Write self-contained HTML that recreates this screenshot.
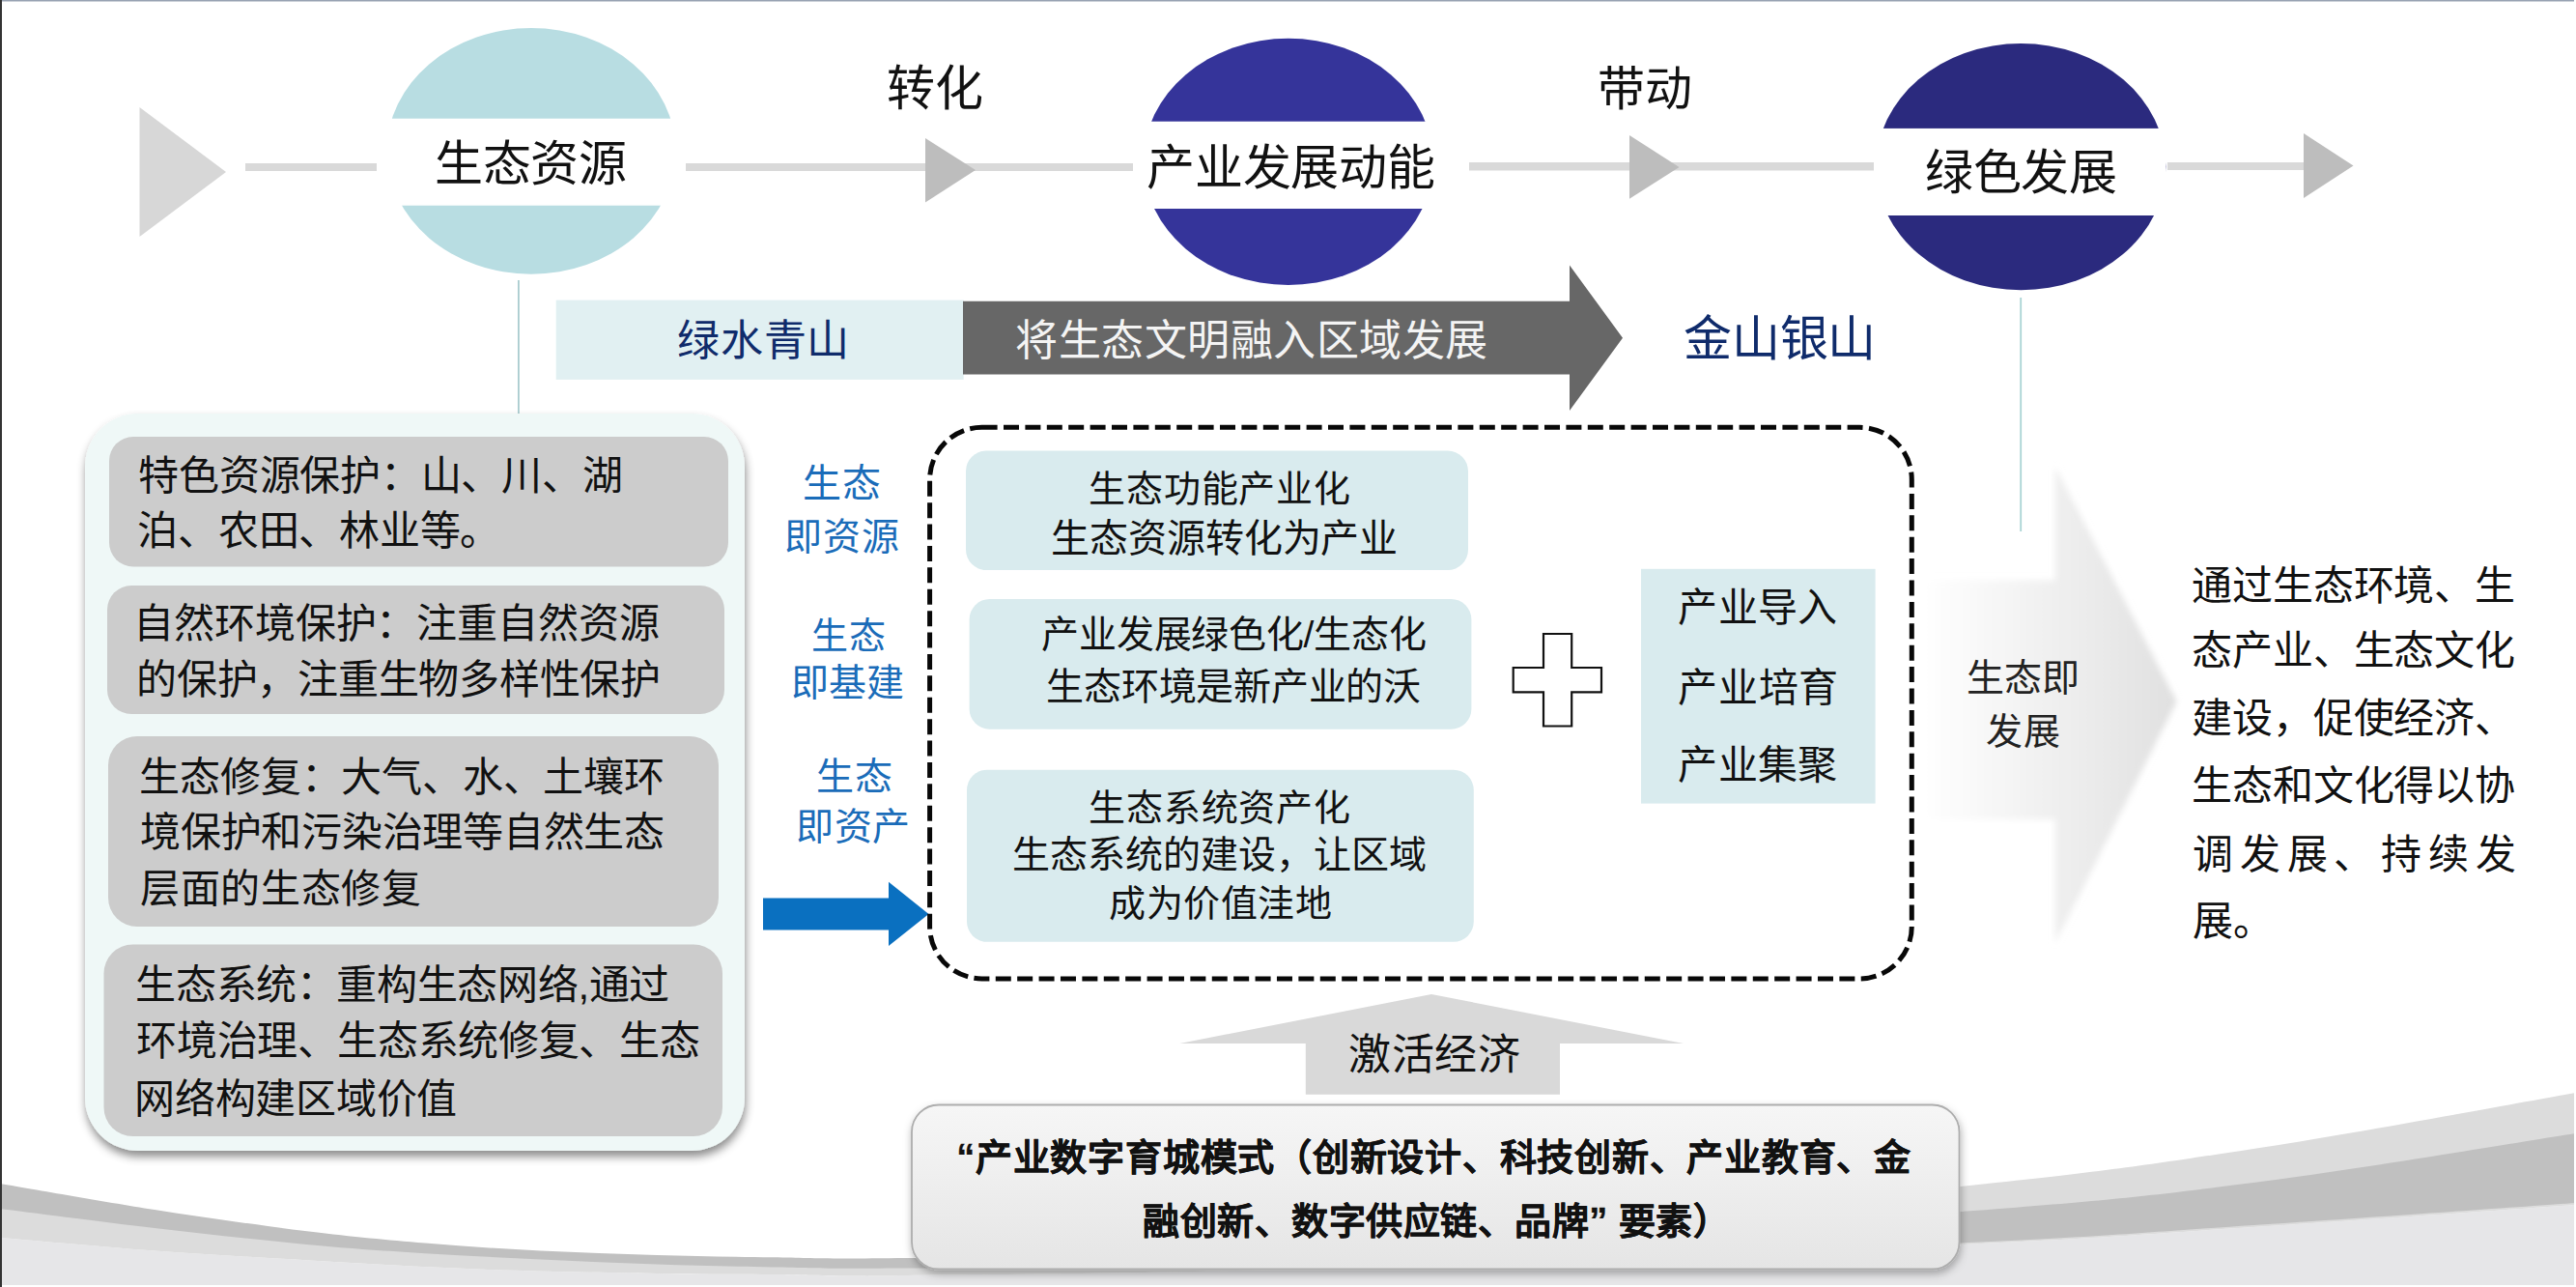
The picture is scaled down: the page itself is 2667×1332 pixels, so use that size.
<!DOCTYPE html>
<html lang="zh-CN"><head><meta charset="utf-8">
<style>
html,body{margin:0;padding:0;}
body{width:2667px;height:1332px;position:relative;overflow:hidden;background:#fff;font-family:"Liberation Sans",sans-serif;color:#111;}
.a{position:absolute;white-space:nowrap;}
svg{position:absolute;left:0;top:0;}
</style></head><body>
<svg width="2667" height="1332" viewBox="0 0 2667 1332">
<defs>
 <filter id="sh1" x="-10%" y="-10%" width="120%" height="125%">
  <feDropShadow dx="1" dy="6" stdDeviation="5" flood-color="#000" flood-opacity="0.45"/>
 </filter>
 <filter id="sh2" x="-10%" y="-20%" width="120%" height="140%">
  <feDropShadow dx="1" dy="4" stdDeviation="4" flood-color="#000" flood-opacity="0.3"/>
 </filter>
 <filter id="blur1" x="-30%" y="-30%" width="160%" height="160%">
  <feGaussianBlur stdDeviation="3"/>
 </filter>
 <linearGradient id="gArrow" gradientUnits="userSpaceOnUse" x1="1990" y1="0" x2="2253" y2="0">
  <stop offset="0" stop-color="#ffffff"/>
  <stop offset="0.5" stop-color="#f0f0f0"/>
  <stop offset="1" stop-color="#e0e0e0"/>
 </linearGradient>
 <linearGradient id="gBox" x1="0" y1="0" x2="0" y2="1">
  <stop offset="0" stop-color="#f6f6f6"/>
  <stop offset="1" stop-color="#e5e5e5"/>
 </linearGradient>
</defs>
<path d="M0.0,1281.0 C26.7,1283.2 106.7,1290.6 160.0,1294.5 C213.3,1298.4 263.3,1301.2 320.0,1304.4 C376.7,1307.6 440.0,1311.4 500.0,1313.7 C560.0,1316.0 630.0,1317.1 680.0,1318.0 C730.0,1318.9 756.7,1318.7 800.0,1319.0 C843.3,1319.3 840.0,1321.2 940.0,1320.0 C1040.0,1318.8 1218.3,1317.3 1400.0,1312.0 C1581.7,1306.7 1874.5,1295.0 2030.0,1288.0 C2185.5,1281.0 2226.8,1276.8 2333.0,1270.0 C2439.2,1263.2 2611.3,1250.8 2667.0,1247.0 L2667,1330 L0,1330 Z" fill="#e6e6e8"/><path d="M0.0,1238.0 C26.7,1241.8 106.7,1253.8 160.0,1261.0 C213.3,1268.2 273.3,1276.0 320.0,1281.0 C366.7,1286.0 400.0,1288.0 440.0,1291.0 C480.0,1294.0 520.0,1297.0 560.0,1299.0 C600.0,1301.0 640.0,1302.0 680.0,1303.0 C720.0,1304.0 756.7,1304.5 800.0,1305.0 C843.3,1305.5 840.0,1309.3 940.0,1306.0 C1040.0,1302.7 1218.3,1298.0 1400.0,1285.0 C1581.7,1272.0 1874.5,1244.0 2030.0,1228.0 C2185.5,1212.0 2226.8,1205.2 2333.0,1189.0 C2439.2,1172.8 2611.3,1140.7 2667.0,1131.0 L2667.0,1247.0 C2611.3,1250.8 2439.2,1263.2 2333.0,1270.0 C2226.8,1276.8 2185.5,1281.0 2030.0,1288.0 C1874.5,1295.0 1581.7,1306.7 1400.0,1312.0 C1218.3,1317.3 1040.0,1318.8 940.0,1320.0 C840.0,1321.2 843.3,1319.3 800.0,1319.0 C756.7,1318.7 730.0,1318.9 680.0,1318.0 C630.0,1317.1 560.0,1316.0 500.0,1313.7 C440.0,1311.4 376.7,1307.6 320.0,1304.4 C263.3,1301.2 213.3,1298.4 160.0,1294.5 C106.7,1290.6 26.7,1283.2 0.0,1281.0 Z" fill="#dcdcdc"/><path d="M0.0,1225.0 C26.7,1229.5 106.7,1243.7 160.0,1252.0 C213.3,1260.3 273.3,1268.8 320.0,1274.6 C366.7,1280.4 400.0,1283.3 440.0,1286.6 C480.0,1289.9 520.0,1292.5 560.0,1294.6 C600.0,1296.6 640.0,1297.8 680.0,1298.9 C720.0,1300.0 756.7,1300.8 800.0,1301.3 C843.3,1301.8 840.0,1303.2 940.0,1302.0 C1040.0,1300.8 1218.3,1302.0 1400.0,1294.0 C1581.7,1286.0 1874.5,1265.7 2030.0,1254.0 C2185.5,1242.3 2226.8,1237.5 2333.0,1224.0 C2439.2,1210.5 2611.3,1181.5 2667.0,1173.0 L2667.0,1245.0 C2611.3,1248.8 2439.2,1261.1 2333.0,1268.0 C2226.8,1274.9 2185.5,1279.7 2030.0,1286.4 C1874.5,1293.1 1581.7,1303.7 1400.0,1308.0 C1218.3,1312.3 1040.0,1311.9 940.0,1312.5 C840.0,1313.1 843.3,1312.1 800.0,1311.4 C756.7,1310.7 720.0,1309.8 680.0,1308.5 C640.0,1307.2 600.0,1305.4 560.0,1303.5 C520.0,1301.6 480.0,1299.7 440.0,1297.2 C400.0,1294.7 366.7,1292.7 320.0,1288.3 C273.3,1283.9 213.3,1277.2 160.0,1271.0 C106.7,1264.8 26.7,1254.3 0.0,1251.0 Z" fill="#c0c0c0"/>
<rect x="0" y="1330" width="2667" height="2" fill="#fff"/>
<rect x="2665" y="0" width="2" height="1332" fill="#fff"/>

<!-- top flow -->
<polygon points="144.5,111 234,178 144.5,245" fill="#d7d7d7"/>
<rect x="254" y="169" width="136" height="8" fill="#d9d9d9"/>
<rect x="709" y="169" width="464" height="8" fill="#d9d9d9"/>
<polygon points="958,143 1010,176 958,209.5" fill="#bdbdbd"/>
<rect x="1521" y="168" width="419" height="8.5" fill="#d9d9d9"/>
<polygon points="1687,140 1738.5,173 1687,205.7" fill="#bdbdbd"/>
<rect x="2244" y="168" width="141" height="8" fill="#d9d9d9"/>
<polygon points="2385,138 2436.5,171.5 2385,205" fill="#bdbdbd"/>

<ellipse cx="550" cy="156.4" rx="149.5" ry="127.3" fill="#b8dde2"/>
<rect x="390" y="122.7" width="320" height="90" fill="#fff"/>
<ellipse cx="1333.8" cy="167.4" rx="150" ry="127.6" fill="#35349a"/>
<rect x="1173" y="125.7" width="321" height="90.3" fill="#fff"/>
<ellipse cx="2092.3" cy="172.6" rx="150" ry="127.6" fill="#2b2a7e"/>
<rect x="1942" y="132.9" width="300" height="90.1" fill="#fff"/>

<rect x="536" y="290" width="1.8" height="138" fill="#aacccf"/>
<rect x="2091.3" y="308" width="1.8" height="242" fill="#aad4d4"/>

<!-- banner -->
<rect x="575.7" y="310.6" width="422" height="82.3" fill="#e1f0f2"/>
<polygon points="997,311.7 1625,311.7 1625,274.5 1680,349.8 1625,425 1625,387.4 997,387.4" fill="#676767"/>

<!-- left panel -->
<rect x="88" y="428" width="683" height="763" rx="55" ry="55" fill="#eff8f7" filter="url(#sh1)"/>
<rect x="113" y="452" width="641" height="134.5" rx="25" ry="25" fill="#cccccc"/>
<rect x="111" y="606" width="639" height="133" rx="25" ry="25" fill="#cccccc"/>
<rect x="112" y="762" width="632" height="197" rx="30" ry="30" fill="#cccccc"/>
<rect x="107.5" y="977.5" width="640.5" height="198.5" rx="30" ry="30" fill="#cccccc"/>

<!-- blue arrow -->
<polygon points="790,929.4 920,929.4 920,912.8 961.5,946 920,979 920,962.4 790,962.4" fill="#0a70c0"/>

<!-- dashed container -->
<rect x="962.6" y="442.3" width="1016.7" height="570.6" rx="54" ry="54" fill="none" stroke="#080808" stroke-width="5" stroke-dasharray="16 6.4"/>
<rect x="1000" y="466.6" width="520" height="123.4" rx="21" ry="21" fill="#d9ebee"/>
<rect x="1003.6" y="620" width="519.8" height="134.7" rx="21" ry="21" fill="#d9ebee"/>
<rect x="1001" y="796.7" width="524.8" height="178.1" rx="21" ry="21" fill="#d9ebee"/>
<path d="M1598,656 H1627.2 V691 H1658 V716.3 H1627.2 V751.5 H1598 V716.3 H1566.7 V691 H1598 Z" fill="#fff" stroke="#111" stroke-width="2.2"/>
<rect x="1699" y="588.8" width="242.6" height="242.8" fill="#d9ebee"/>

<!-- big light arrow -->
<polygon points="1990,600.5 2127.8,600.5 2127.8,483 2253.6,726 2127.8,976 2127.8,848 1990,848" fill="url(#gArrow)" filter="url(#blur1)"/>

<!-- up arrow -->
<polygon points="1221.4,1080 1482,1029 1743,1080 1615,1080 1615,1132.7 1351.8,1132.7 1351.8,1080" fill="#d9d9d9"/>

<!-- bottom box -->
<rect x="944" y="1143.5" width="1084.5" height="170" rx="28" ry="28" fill="url(#gBox)" stroke="#adadad" stroke-width="1.8" filter="url(#sh2)"/>

<rect x="0" y="0" width="2665" height="1.5" fill="#98a2b2"/>
<rect x="0" y="0" width="2" height="1332" fill="#333"/>
</svg>
<div class="a" id="t_sz" style="left:450.0px;top:139.5px;font-size:50px;line-height:60px;color:#111;letter-spacing:-0.47px;">生态资源</div>
<div class="a" id="t_zh" style="left:918.0px;top:61.5px;font-size:50px;line-height:60px;color:#111;">转化</div>
<div class="a" id="t_cy" style="left:1187.0px;top:144.0px;font-size:50px;line-height:60px;color:#111;letter-spacing:-0.20px;">产业发展动能</div>
<div class="a" id="t_dd" style="left:1654.0px;top:62.5px;font-size:49px;line-height:59px;color:#111;">带动</div>
<div class="a" id="t_ls" style="left:1993.0px;top:149.0px;font-size:50px;line-height:60px;color:#111;letter-spacing:-0.47px;">绿色发展</div>
<div class="a" id="t_lsqs" style="left:701.1px;top:326.0px;font-size:44px;line-height:53px;color:#0f2b6b;letter-spacing:0.73px;">绿水青山</div>
<div class="a" id="t_jst" style="left:1051.1px;top:325.5px;font-size:44px;line-height:53px;color:#f4f4f4;letter-spacing:0.54px;">将生态文明融入区域发展</div>
<div class="a" id="t_jsys" style="left:1743.0px;top:320.5px;font-size:50px;line-height:60px;color:#0f2b6b;letter-spacing:-0.20px;">金山银山</div>
<div class="a" id="b1l1" style="left:143.2px;top:467.5px;font-size:42px;line-height:50px;color:#111;letter-spacing:-0.22px;">特色资源保护：山、川、湖</div>
<div class="a" id="b1l2" style="left:142.2px;top:525.0px;font-size:42px;line-height:50px;color:#111;letter-spacing:-0.22px;">泊、农田、林业等。</div>
<div class="a" id="b2l1" style="left:138.2px;top:621.0px;font-size:42px;line-height:50px;color:#111;letter-spacing:-0.12px;">自然环境保护：注重自然资源</div>
<div class="a" id="b2l2" style="left:141.2px;top:678.5px;font-size:42px;line-height:50px;color:#111;letter-spacing:-0.25px;">的保护，注重生物多样性保护</div>
<div class="a" id="b3l1" style="left:144.2px;top:780.0px;font-size:42px;line-height:50px;color:#111;letter-spacing:-0.17px;">生态修复：大气、水、土壤环</div>
<div class="a" id="b3l2" style="left:145.2px;top:836.5px;font-size:42px;line-height:50px;color:#111;letter-spacing:-0.25px;">境保护和污染治理等自然生态</div>
<div class="a" id="b3l3" style="left:145.2px;top:895.5px;font-size:41px;line-height:49px;color:#111;letter-spacing:0.65px;">层面的生态修复</div>
<div class="a" id="b4l1" style="left:140.2px;top:995.0px;font-size:42px;line-height:50px;color:#111;letter-spacing:-0.34px;">生态系统：重构生态网络,通过</div>
<div class="a" id="b4l2" style="left:141.2px;top:1053.0px;font-size:42px;line-height:50px;color:#111;letter-spacing:-0.34px;">环境治理、生态系统修复、生态</div>
<div class="a" id="b4l3" style="left:139.2px;top:1113.0px;font-size:42px;line-height:50px;color:#111;letter-spacing:-0.26px;">网络构建区域价值</div>
<div class="a" id="bl1a" style="left:831.2px;top:475.5px;font-size:40px;line-height:48px;color:#1a6cb9;letter-spacing:1.00px;">生态</div>
<div class="a" id="bl1b" style="left:812.2px;top:531.5px;font-size:39px;line-height:47px;color:#1a6cb9;letter-spacing:0.70px;">即资源</div>
<div class="a" id="bl2a" style="left:840.3px;top:634.5px;font-size:38px;line-height:46px;color:#1a6cb9;letter-spacing:1.00px;">生态</div>
<div class="a" id="bl2b" style="left:819.2px;top:683.0px;font-size:39px;line-height:47px;color:#1a6cb9;">即基建</div>
<div class="a" id="bl3a" style="left:845.2px;top:779.5px;font-size:39px;line-height:47px;color:#1a6cb9;letter-spacing:0.80px;">生态</div>
<div class="a" id="bl3b" style="left:824.2px;top:832.0px;font-size:39px;line-height:47px;color:#1a6cb9;letter-spacing:0.50px;">即资产</div>
<div class="a" id="ta1" style="left:1127.2px;top:483.0px;font-size:38px;line-height:46px;color:#111;letter-spacing:0.82px;">生态功能产业化</div>
<div class="a" id="ta2" style="left:1088.2px;top:532.5px;font-size:40px;line-height:48px;color:#111;letter-spacing:-0.10px;">生态资源转化为产业</div>
<div class="a" id="tb1" style="left:1078.3px;top:632.5px;font-size:39px;line-height:47px;color:#111;letter-spacing:-0.26px;">产业发展绿色化/生态化</div>
<div class="a" id="tb2" style="left:1083.2px;top:687.0px;font-size:39px;line-height:47px;color:#111;letter-spacing:-0.22px;">生态环境是新产业的沃</div>
<div class="a" id="tc1" style="left:1127.2px;top:813.0px;font-size:38px;line-height:46px;color:#111;letter-spacing:0.82px;">生态系统资产化</div>
<div class="a" id="tc2" style="left:1048.2px;top:861.0px;font-size:39px;line-height:47px;color:#111;">生态系统的建设，让区域</div>
<div class="a" id="tc3" style="left:1148.2px;top:912.0px;font-size:38px;line-height:46px;color:#111;letter-spacing:0.50px;">成为价值洼地</div>
<div class="a" id="tr1" style="left:1737.2px;top:604.5px;font-size:41px;line-height:49px;color:#111;letter-spacing:0.33px;">产业导入</div>
<div class="a" id="tr2" style="left:1737.2px;top:687.5px;font-size:41px;line-height:49px;color:#111;letter-spacing:0.67px;">产业培育</div>
<div class="a" id="tr3" style="left:1737.2px;top:768.0px;font-size:41px;line-height:49px;color:#111;letter-spacing:0.33px;">产业集聚</div>
<div class="a" id="tsj1" style="left:2036.2px;top:678.0px;font-size:39px;line-height:47px;color:#222;letter-spacing:0.10px;">生态即</div>
<div class="a" id="tsj2" style="left:2056.2px;top:733.5px;font-size:38px;line-height:46px;color:#222;letter-spacing:1.00px;">发展</div>
<div class="a" id="p1" style="left:2269.2px;top:582.0px;font-size:42px;line-height:50px;color:#111;letter-spacing:-0.14px;">通过生态环境、生</div>
<div class="a" id="p2" style="left:2269.2px;top:649.0px;font-size:42px;line-height:50px;color:#111;letter-spacing:-0.14px;">态产业、生态文化</div>
<div class="a" id="p3" style="left:2269.2px;top:719.0px;font-size:42px;line-height:50px;color:#111;letter-spacing:-0.14px;">建设，促使经济、</div>
<div class="a" id="p4" style="left:2269.2px;top:789.0px;font-size:42px;line-height:50px;color:#111;letter-spacing:-0.14px;">生态和文化得以协</div>
<div class="a" id="p5" style="left:2270.0px;top:859.5px;font-size:42px;line-height:50px;color:#111;letter-spacing:6.83px;">调发展、持续发</div>
<div class="a" id="p6" style="left:2270.2px;top:928.5px;font-size:42px;line-height:50px;color:#111;letter-spacing:-0.14px;">展。</div>
<div class="a" id="jh" style="left:1396.1px;top:1065.0px;font-size:44px;line-height:53px;color:#111;letter-spacing:0.67px;">激活经济</div>
<div class="a" id="bt1" style="left:990.2px;top:1174.5px;font-size:38px;line-height:46px;color:#111;font-weight:700;-webkit-text-stroke:0.3px #111;letter-spacing:0.76px;">“产业数字育城模式（创新设计、科技创新、产业教育、金</div>
<div class="a" id="bt2" style="left:1183.3px;top:1240.5px;font-size:38px;line-height:46px;color:#111;font-weight:700;-webkit-text-stroke:0.3px #111;letter-spacing:0.50px;">融创新、数字供应链、品牌” 要素）</div>
</body></html>
